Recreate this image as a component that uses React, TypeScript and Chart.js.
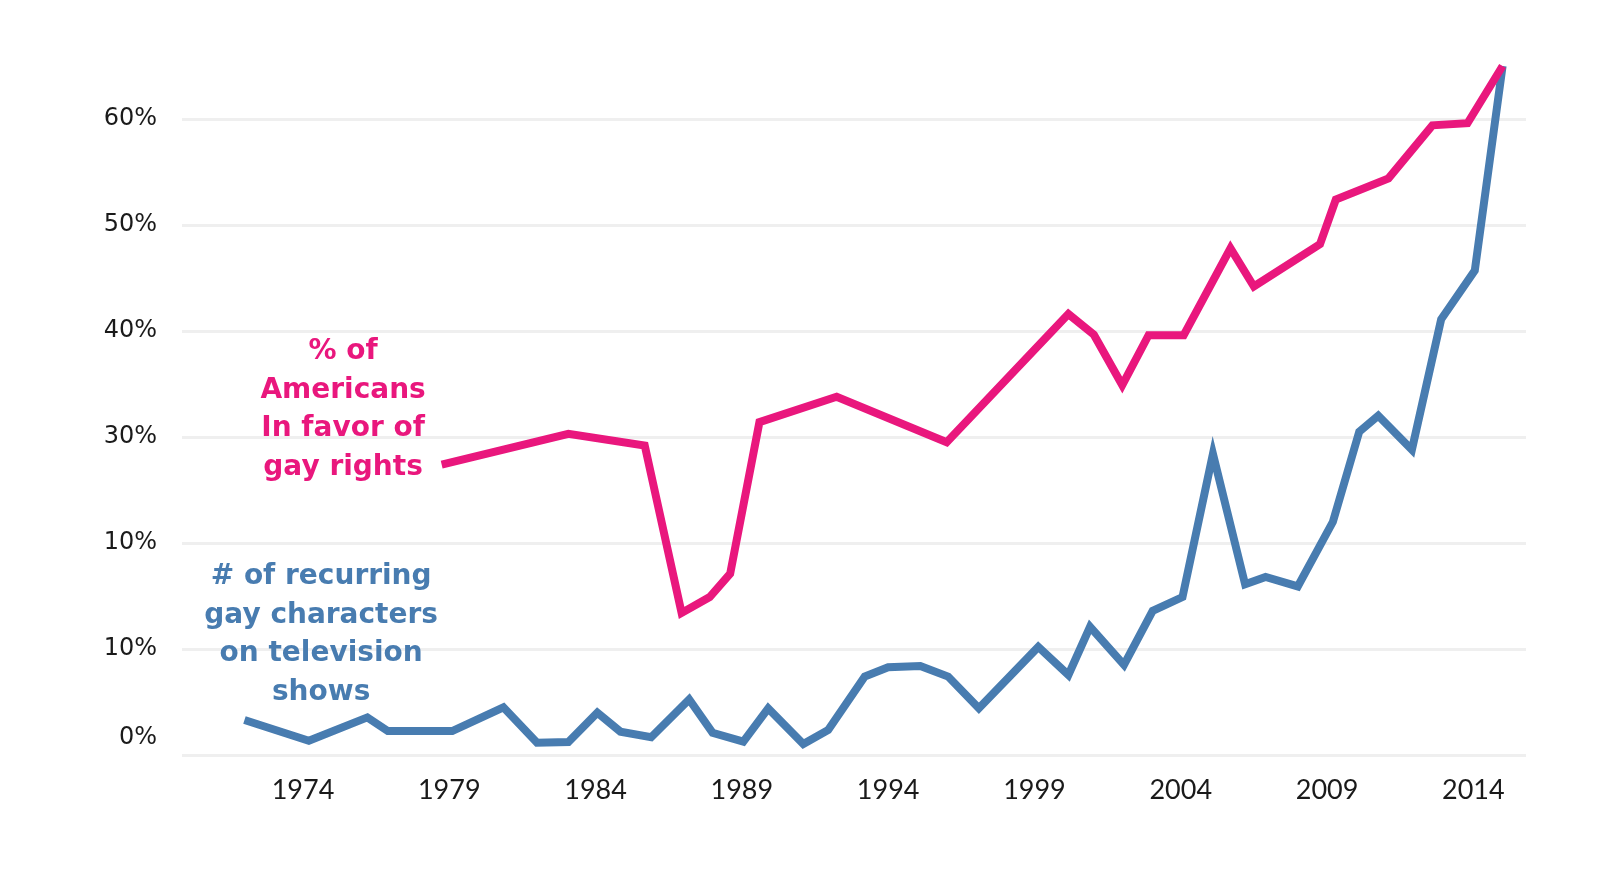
import React, { useEffect, useRef } from 'react';
import { Chart, registerables } from 'chart.js';

Chart.register(...registerables);

// Series: # of recurring gay characters on television shows (blue)
const blueYears = [
  1972, 1974.2, 1976.2, 1976.9, 1979.1, 1980.85, 1982.0, 1983.07, 1984.06, 1984.85,
  1985.9, 1987.2, 1988.0, 1989.05, 1989.9, 1991.1, 1991.95, 1993.2, 1994.0, 1995.1,
  1996.05, 1997.1, 1999.13, 2000.16, 2000.9, 2002.06, 2003.04, 2004.06, 2005.1, 2006.2,
  2006.9, 2008.0, 2009.2, 2010.1, 2010.75, 2011.9, 2012.9, 2014.05, 2015.0,
];
const blueValues = [
  3.3, 1.35, 3.55, 2.26, 2.26, 4.5, 1.16, 1.23, 4.0, 2.2,
  1.67, 5.25, 2.1, 1.26, 4.4, 1.04, 2.36, 7.4, 8.27, 8.4,
  7.4, 4.4, 10.2, 7.55, 12.1, 8.5, 13.6, 14.9, 28.4, 16.1,
  16.8, 15.9, 22.0, 30.5, 32.0, 28.8, 41.1, 45.7, 65.0,
];

// Series: % of Americans in favor of gay rights (pink)
const pinkYears = [
  1978.74, 1983.07, 1985.68, 1986.94, 1987.9, 1988.6, 1989.6, 1992.24, 1996.0, 2000.16,
  2001.03, 2002.0, 2002.9, 2004.1, 2005.7, 2006.5, 2008.76, 2009.3, 2011.1, 2012.6,
  2013.8, 2015.0,
];
const pinkValues = [
  27.4, 30.3, 29.2, 13.4, 14.9, 17.1, 31.4, 33.8, 29.5, 41.6,
  39.65, 34.9, 39.6, 39.6, 47.8, 44.2, 48.2, 52.4, 54.4, 59.4,
  59.6, 65.0,
];

const xTickYears = [1974, 1979, 1984, 1989, 1994, 1999, 2004, 2009, 2014];
const yTickValues = [0, 10, 20, 30, 40, 50, 60];
const yTickLabels = ['0%', '10%', '10%', '30%', '40%', '50%', '60%'];

const pinkLabelLines = ['% of', 'Americans', 'In favor of', 'gay rights'];
const blueLabelLines = ['# of recurring', 'gay characters', 'on television', 'shows'];

const PINK = '#E9177D';
const BLUE = '#487CB0';
const TEXT = '#1a1a1a';

export default function App() {
  const ref = useRef<HTMLCanvasElement | null>(null);

  useEffect(() => {
    const canvas = ref.current;
    if (!canvas) return;

    const seriesLabels = {
      id: 'seriesLabels',
      afterDatasetsDraw(chart: any) {
        const { ctx, scales } = chart;
        const draw = (lines: string[], color: string, xVal: number, yVal: number) => {
          const x = scales.x.getPixelForValue(xVal);
          const y0 = scales.y.getPixelForValue(yVal);
          ctx.save();
          ctx.font = 'bold 28px "DejaVu Sans"';
          ctx.fillStyle = color;
          ctx.textAlign = 'center';
          ctx.textBaseline = 'alphabetic';
          lines.forEach((line, i) => ctx.fillText(line, x, y0 + i * 38.6));
          ctx.restore();
        };
        draw(pinkLabelLines, PINK, 1975.37, 37.36);
        draw(blueLabelLines, BLUE, 1974.62, 16.13);
      },
    };

    const chart = new Chart(canvas, {
      type: 'line',
      data: {
        datasets: [
          {
            data: pinkYears.map((x, i) => ({ x, y: pinkValues[i] })),
            borderColor: PINK,
            borderWidth: 8,
            pointRadius: 0,
            tension: 0,
            borderJoinStyle: 'miter',
            borderCapStyle: 'butt',
            fill: false,
          },
          {
            data: blueYears.map((x, i) => ({ x, y: blueValues[i] })),
            borderColor: BLUE,
            borderWidth: 8,
            pointRadius: 0,
            tension: 0,
            borderJoinStyle: 'miter',
            borderCapStyle: 'butt',
            fill: false,
          },
        ],
      },
      options: {
        animation: false,
        responsive: false,
        maintainAspectRatio: false,
        layout: { padding: { top: 13, right: 74, left: 0, bottom: 0 } },
        plugins: {
          legend: { display: false },
          tooltip: { enabled: false },
        },
        scales: {
          x: {
            type: 'linear',
            min: 1969.865,
            max: 2015.8,
            grid: { display: false, drawTicks: false },
            border: { display: false },
            afterBuildTicks: (axis: any) => {
              axis.ticks = xTickYears.map((v) => ({ value: v }));
            },
            afterFit: (axis: any) => {
              axis.height = 130;
              axis.paddingLeft = 0;
              axis.paddingRight = 0;
              axis.paddingTop = 0;
              axis.paddingBottom = 0;
            },
            ticks: {
              padding: 19,
              color: TEXT,
              font: { family: 'Lato', size: 27, weight: 'normal' },
              maxRotation: 0,
              autoSkip: false,
              callback: (v: any) => String(v),
            },
          },
          y: {
            type: 'linear',
            min: 0,
            max: 70,
            grid: { color: '#efefef', lineWidth: 3, drawTicks: false },
            border: { display: false },
            afterBuildTicks: (axis: any) => {
              axis.ticks = yTickValues.map((v) => ({ value: v }));
            },
            afterFit: (axis: any) => {
              axis.width = 182;
              axis.paddingLeft = 0;
              axis.paddingRight = 0;
              axis.paddingTop = 0;
              axis.paddingBottom = 0;
            },
            ticks: {
              padding: 25,
              color: TEXT,
              font: { family: 'DejaVu Sans', size: 24, weight: 'normal', lineHeight: 1.4 },
              callback: (v: any) => {
                const idx = yTickValues.indexOf(Number(v));
                const label = idx >= 0 ? yTickLabels[idx] : '';
                return idx === 0 ? [label, ''] : label;
              },
            },
          },
        },
      },
      plugins: [seriesLabels],
    } as any);

    return () => chart.destroy();
  }, []);

  return (
    <div style={{ position: 'absolute', left: 0, top: 0, width: 1600, height: 885, background: '#ffffff' }}>
      <canvas ref={ref} width={1600} height={885} style={{ width: 1600, height: 885, display: 'block' }} />
    </div>
  );
}
